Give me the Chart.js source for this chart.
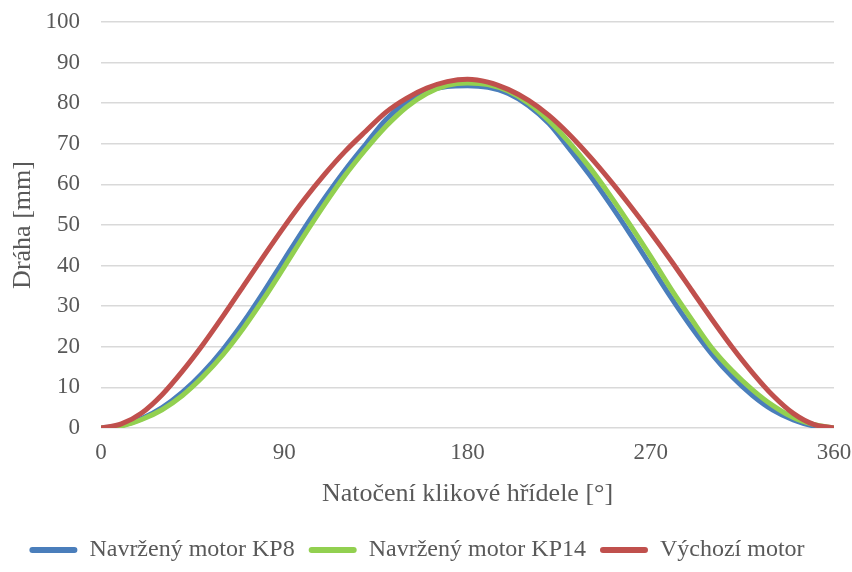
<html>

<script src="https://cdn.jsdelivr.net/npm/chart.js@4.4.0/dist/chart.umd.min.js"></script>

<body style="margin: 0; background: #fff;">
    <div style="width: 852px; height: 572px;">
        <canvas id="myChart"></canvas>
    </div>
</body>

<script>
    // crank angle [deg], every 10 degrees
    var angles = [0, 10, 20, 30, 40, 50, 60, 70, 80, 90, 100, 110, 120, 130, 140, 150, 160, 170, 180,
        190, 200, 210, 220, 230, 240, 250, 260, 270, 280, 290, 300, 310, 320, 330, 340, 350, 360];

    // piston travel [mm]
    var kp8 = [0, 0.6, 2.3, 5.0, 8.8, 13.6, 19.4, 26.1, 33.6, 41.5, 49.3, 56.7, 63.6, 69.9, 76.0, 80.2, 82.9, 84.1, 84.3,
        83.9, 82.4, 79.4, 75.0, 68.8, 62.3, 55.2, 47.7, 39.9, 32.1, 24.8, 18.2, 12.6, 8.0, 4.4, 2.0, 0.5, 0];
    var kp14 = [0, 0.5, 2.1, 4.5, 8.0, 12.6, 18.1, 24.6, 31.9, 39.7, 47.6, 55.2, 62.3, 68.6, 74.3, 79.0, 82.4, 84.4, 85.0,
        84.6, 83.0, 80.0, 75.7, 70.3, 64.2, 57.3, 49.9, 42.2, 34.2, 26.8, 19.7, 14.1, 9.4, 5.5, 2.6, 0.9, 0];
    var vychozi = [0, 1.0, 3.7, 8.2, 14.0, 20.5, 27.6, 35.0, 42.4, 49.6, 56.4, 62.6, 68.2, 73.1, 77.8, 81.2, 83.7, 85.3, 85.9,
        85.2, 83.4, 80.7, 77.0, 72.3, 66.9, 61.0, 54.7, 48.1, 41.2, 34.0, 26.8, 19.9, 13.6, 8.0, 3.6, 0.9, 0];

    var names = ["Navržený motor KP8", "Navržený motor KP14", "Výchozí motor"];
    var colors = ["#4a7ebb", "#92d050", "#c0504d"];

    function pts(vals) {
        return angles.map(function (a, i) { return { x: a, y: vals[i] }; });
    }

    var txt = "#595959";
    var serif = "'Liberation Serif', 'Times New Roman', serif";

    var sets = [kp8, kp14, vychozi].map(function (v, i) {
        return {
            label: names[i],
            data: pts(v),
            borderColor: colors[i],
            backgroundColor: colors[i],
            borderWidth: 5,
            borderCapStyle: "round",
            pointRadius: 0,
            cubicInterpolationMode: "monotone",
            fill: false,
            order: 2 - i   // red on top, then green, then blue
        };
    });

    new Chart("myChart", {
        type: "line",
        data: { datasets: sets },
        options: {
            animation: false,
            responsive: true,
            maintainAspectRatio: false,
            layout: { padding: { top: 22, right: 18, left: 0, bottom: 0 } },
            plugins: {
                tooltip: { enabled: false },
                legend: {
                    display: true,
                    position: "bottom",
                    labels: {
                        color: txt,
                        font: { family: serif, size: 24 },
                        boxWidth: 48,
                        boxHeight: 6,
                        useBorderRadius: true,
                        borderRadius: 3,
                        padding: 14,
                        sort: function (a, b) { return a.datasetIndex - b.datasetIndex; },
                        generateLabels: function (chart) {
                            var items = Chart.defaults.plugins.legend.labels.generateLabels(chart);
                            items.forEach(function (it) { it.lineWidth = 0; });
                            return items;
                        }
                    }
                }
            },
            scales: {
                x: {
                    type: "linear",
                    min: 0,
                    max: 360,
                    afterFit: function (s) { s.height = 96; s.paddingLeft = 0; s.paddingRight = 0; },
                    ticks: {
                        stepSize: 90,
                        color: txt,
                        padding: 3,
                        font: { family: serif, size: 23 }
                    },
                    grid: { display: false },
                    border: { display: false },
                    title: {
                        display: true,
                        text: "Natočení klikové hřídele [°]",
                        color: txt,
                        font: { family: serif, size: 26 },
                        padding: { top: 4, bottom: 14 }
                    }
                },
                y: {
                    min: 0,
                    max: 100,
                    afterFit: function (s) { s.width = 101; s.paddingTop = 0; s.paddingBottom = 0; },
                    ticks: {
                        stepSize: 10,
                        color: txt,
                        padding: 21,
                        font: { family: serif, size: 23 }
                    },
                    grid: { color: "#d9d9d9", lineWidth: 1.5, drawTicks: false },
                    border: { display: false },
                    title: {
                        display: true,
                        text: "Dráha [mm]",
                        color: txt,
                        font: { family: serif, size: 26 },
                        padding: { top: 8, bottom: 4 }
                    }
                }
            }
        }
    });
</script>

</html>
